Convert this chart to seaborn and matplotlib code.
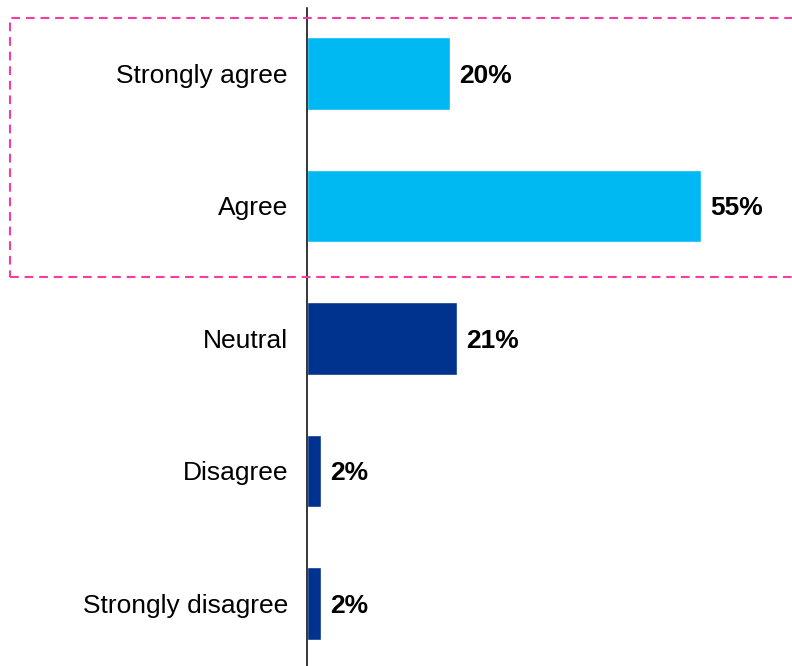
import matplotlib
matplotlib.use("Agg")
import matplotlib.pyplot as plt
import seaborn as sns
import pandas as pd
from matplotlib.patches import Rectangle

# Survey responses
categories = ["Strongly agree", "Agree", "Neutral", "Disagree", "Strongly disagree"]
values = [20, 55, 21, 2, 2]
value_labels = ["20%", "55%", "21%", "2%", "2%"]
bar_colors = ["#00B9F2", "#00B9F2", "#00338D", "#00338D", "#00338D"]

sns.set_theme(style="white")
plt.rcParams["font.family"] = ["Liberation Sans", "DejaVu Sans"]

W, H = 792, 666
fig = plt.figure(figsize=(W / 100, H / 100), dpi=100)
ax = fig.add_axes([307 / W, 0, (W - 307) / W, 658 / H])

df = pd.DataFrame({"category": categories, "value": values})
sns.barplot(data=df, x="value", y="category", hue="category", order=categories,
            hue_order=categories, palette=bar_colors, saturation=1, width=0.55,
            legend=False, ax=ax)

ax.set_xlim(0, (W - 307) / 7.16)
ax.set_ylim(4.472, -0.494)
ax.set_xticks([])
ax.set_xlabel("")
ax.set_ylabel("")
for side in ("top", "right", "bottom"):
    ax.spines[side].set_visible(False)
ax.spines["left"].set_color("black")
ax.spines["left"].set_linewidth(1.1)
ax.tick_params(axis="y", length=0, pad=13.7, labelsize=19, labelcolor="black")

for i, (v, lab) in enumerate(zip(values, value_labels)):
    ax.annotate(lab, xy=(v, i), xytext=(6.5, 0), textcoords="offset points",
                ha="left", va="center_baseline", fontsize=19, fontweight="bold",
                color="black")

# Dashed highlight around the agreeing responses
box = Rectangle((10 / W, (H - 277) / H), 1.05, (277 - 18) / H,
                transform=fig.transFigure, fill=False, edgecolor="#F53DA0",
                linewidth=1.5, linestyle=(0, (4.2, 2.8)), clip_on=False, zorder=10)
fig.patches.append(box)

fig.savefig("out.png", dpi=100)
